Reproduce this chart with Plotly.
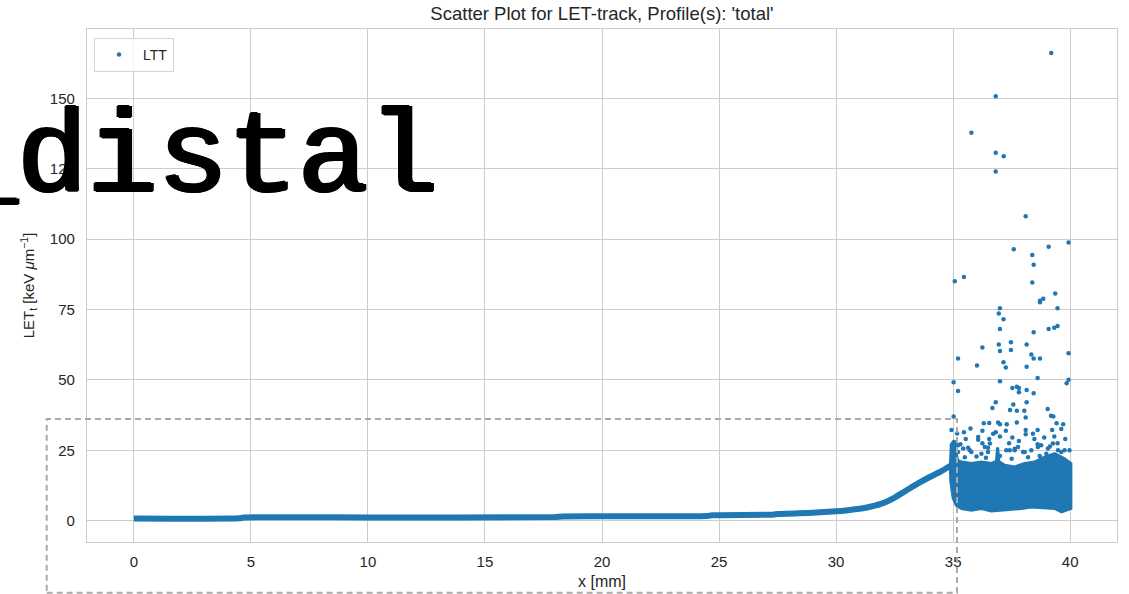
import plotly.graph_objects as go

# ---- figure geometry (pixels) ----
W, H = 1129, 594
ML, MR, MT, MB = 87, 12, 29, 52
PW, PH = W - ML - MR, H - MT - MB

BLUE = "#1f77b4"
GRID = "#cccccc"
TXT = "#262626"

# ---- LET-track along depth: dense track band (0 .. 35 mm) ----
track_x = [0.0, 4.5, 4.7, 10.0, 18.0, 18.3, 24.5, 24.7, 27.3, 27.5, 29.0, 30.0,
           30.5, 31.0, 31.5, 32.0, 32.5, 33.0, 33.5, 34.0, 34.5, 34.9]
track_y = [0.75, 0.8, 1.1, 1.15, 1.25, 1.5, 1.6, 1.9, 2.1, 2.35, 2.8, 3.3,
           3.7, 4.2, 5.0, 6.2, 8.2, 10.7, 13.2, 15.5, 17.6, 19.6]

# ---- distal fall-off cloud (35 .. 40 mm): upper and lower envelopes ----
cloud_top_x = [34.88, 34.92, 35.05, 35.12, 35.2, 35.36, 35.78, 36.21, 36.63, 36.85,
               36.9, 36.95, 37.2, 37.63, 38.06, 38.48, 38.91, 39.34, 39.76, 40.03]
cloud_top_y = [19.0, 27.0, 28.5, 24.0, 21.4, 20.8, 20.3, 20.8, 20.3, 21.0,
               26.0, 21.0, 19.7, 19.1, 20.3, 20.8, 22.6, 23.8, 22.0, 20.3]
cloud_bot_x = [40.03, 39.63, 39.34, 38.34, 37.91, 37.2, 36.63, 36.21, 35.78, 35.36,
               35.14, 35.0, 34.9]
cloud_bot_y = [4.3, 3.1, 4.3, 4.8, 4.3, 3.7, 3.4, 4.3, 3.7, 4.3,
               5.4, 8.0, 14.0]

# ---- individual high-LET events ----
event_x = [39.19, 36.82, 35.78, 36.82, 37.16, 36.82, 38.10,
           39.93, 37.59, 39.08, 38.38, 38.44, 35.46, 35.07, 38.38, 39.36, 38.85,
           38.71, 38.71, 39.46, 37.00, 36.95, 37.15, 37.00, 38.44, 39.08, 39.32,
           39.46, 37.47, 36.95, 36.25, 38.14, 37.00, 37.47, 39.93, 38.34, 35.21,
           38.44, 38.71,
           36.02, 37.15, 37.25, 38.14, 38.61, 35.02, 37.00, 39.85, 39.93, 35.21,
           37.53, 37.72, 37.81, 37.81, 38.14, 38.44, 36.82, 37.57, 38.14, 36.68,
           37.43, 37.72, 38.04, 39.04, 39.18, 39.28, 38.10, 35.02, 36.31, 36.54,
           36.92, 37.00, 37.29, 37.72, 39.42, 39.70, 35.74, 34.93, 36.25, 36.82,
           37.25, 38.10, 38.61, 39.23, 39.62, 35.46, 35.17, 37.00, 37.53, 38.10,
           38.89, 39.32, 35.54, 36.07, 36.54, 37.81, 38.47, 39.79, 35.31, 36.25,
           37.39, 38.61, 39.46, 35.64, 36.49, 37.63, 39.13, 35.07,
           35.21, 35.71, 36.21, 36.49, 37.27, 37.63, 38.06, 38.62, 38.98, 39.26,
           39.48, 39.76, 36.07, 36.71, 38.41,
           35.21, 35.43, 35.78, 36.35, 36.57, 37.42, 37.77, 37.99, 38.34, 38.76,
           39.05, 39.62, 39.97, 35.50, 36.00, 36.40, 37.00, 37.50, 38.20, 38.70]
event_y = [166.2, 150.8, 137.8, 130.7, 129.5, 124.1, 108.2,
           98.8, 96.4, 97.3, 94.4, 90.9, 86.6, 85.1, 84.6, 80.7, 78.8,
           78.1, 77.6, 75.5, 75.5, 73.6, 71.6, 68.1, 66.9, 68.1, 68.5,
           69.2, 63.4, 62.6, 61.5, 62.6, 60.3, 60.6, 59.5, 59.0, 57.6,
           57.6, 57.6,
           55.1, 56.3, 54.4, 54.7, 50.7, 49.2, 49.5, 48.8, 50.1, 46.1,
           47.1, 47.6, 47.1, 45.6, 46.4, 45.3, 42.1, 41.3, 42.1, 40.0,
           39.3, 39.0, 39.0, 39.7, 37.3, 37.0, 36.6, 37.0, 34.6, 34.7,
           34.9, 34.2, 34.2, 34.9, 34.6, 34.2, 32.7, 32.2, 31.9, 31.4,
           31.9, 32.2, 32.2, 32.2, 32.6, 31.4, 31.0, 29.9, 29.5, 30.7,
           29.5, 29.9, 29.0, 28.7, 29.0, 28.3, 29.0, 29.0, 27.1, 27.5,
           27.5, 27.1, 27.5, 25.9, 25.9, 25.5, 26.3, 27.1,
           24.4, 25.0, 23.8, 24.4, 25.0, 25.0, 24.4, 26.2, 23.8, 27.4,
           25.0, 25.0, 29.7, 30.9, 30.9,
           26.8, 25.6, 24.4, 26.2, 27.4, 25.0, 26.2, 24.4, 25.0, 26.8,
           25.6, 24.4, 25.0, 22.5, 22.8, 22.3, 23.0, 22.0, 22.5, 23.0]

x_ticks = [0, 5, 10, 15, 20, 25, 30, 35, 40]
y_ticks = [0, 25, 50, 75, 100, 125, 150]
x_range = [-2.0, 42.0]
y_range = [-7.6, 174.7]

title_text = "Scatter Plot for LET-track, Profile(s): 'total'"
x_label = "x [mm]"
y_label = "LET<sub>t</sub> [keV <i>μ</i>m<sup>−1</sup>]"
legend_name = "LTT"
overlay_text = "_distal"


def paper_x(px):
    return (px - ML) / PW


def paper_y(py):
    return (H - MB - py) / PH


fig = go.Figure()

# dense track band
fig.add_trace(go.Scatter(
    x=track_x, y=track_y, mode="lines",
    line=dict(color=BLUE, width=6, shape="spline", smoothing=0.5),
    showlegend=False, hoverinfo="skip"))

# distal cloud body
fig.add_trace(go.Scatter(
    x=cloud_top_x + cloud_bot_x + cloud_top_x[:1],
    y=cloud_top_y + cloud_bot_y + cloud_top_y[:1],
    mode="lines", fill="toself", fillcolor=BLUE,
    line=dict(color=BLUE, width=3),
    showlegend=False, hoverinfo="skip"))

# scattered events (legend entry)
fig.add_trace(go.Scatter(
    x=event_x, y=event_y, mode="markers", name=legend_name,
    marker=dict(color=BLUE, size=4.5, line=dict(width=0))))

axis_common = dict(
    showgrid=True, gridcolor=GRID, gridwidth=1.2,
    zeroline=False, showline=True, mirror=True,
    linecolor=GRID, linewidth=1.2, automargin=False,
    ticks="outside", tickcolor="rgba(0,0,0,0)",
    tickfont=dict(size=15, color=TXT),
)

fig.update_layout(
    width=W, height=H, autosize=False,
    margin=dict(l=ML, r=MR, t=MT, b=MB),
    paper_bgcolor="white", plot_bgcolor="white",
    font=dict(family="Liberation Sans, Arial, sans-serif", color=TXT),
    title=dict(text=title_text, x=0.5, xref="paper",
               y=1 - 14 / H, yref="container", yanchor="middle",
               font=dict(size=18.5, color=TXT)),
    xaxis=dict(range=x_range, tickvals=x_ticks, ticklen=6,
               title=dict(text=x_label, font=dict(size=16, color=TXT), standoff=6),
               **axis_common),
    yaxis=dict(range=y_range, tickvals=y_ticks, ticklen=8,
               title=dict(text=y_label, font=dict(size=15, color=TXT), standoff=11),
               **axis_common),
    legend=dict(x=paper_x(94), y=paper_y(38), xanchor="left", yanchor="top",
                bgcolor="rgba(255,255,255,0.8)", bordercolor="#d5d5d5", borderwidth=1,
                font=dict(size=14, color=TXT), itemwidth=38),
    showlegend=True,
)

# dashed region outline
fig.add_shape(type="rect", xref="paper", yref="paper",
              x0=paper_x(46.7), x1=paper_x(957), y0=paper_y(592.7), y1=paper_y(419),
              line=dict(color="#aaaaaa", width=2, dash="6px,4px"),
              fillcolor="rgba(0,0,0,0)", layer="above")

# big label (regular weight, thickened slightly with a tight outline shadow)
fig.add_annotation(text=overlay_text, xref="paper", yref="paper",
                   x=paper_x(-56), y=paper_y(160), xanchor="left", yanchor="middle",
                   showarrow=False,
                   font=dict(family="Liberation Mono, monospace", size=117, color="black",
                             shadow="2px 0 0 black, -2px 0 0 black, 0 1px 0 black, "
                                    "1px 1px 0 black, -1px -1px 0 black"))

fig.write_html("out.html")
